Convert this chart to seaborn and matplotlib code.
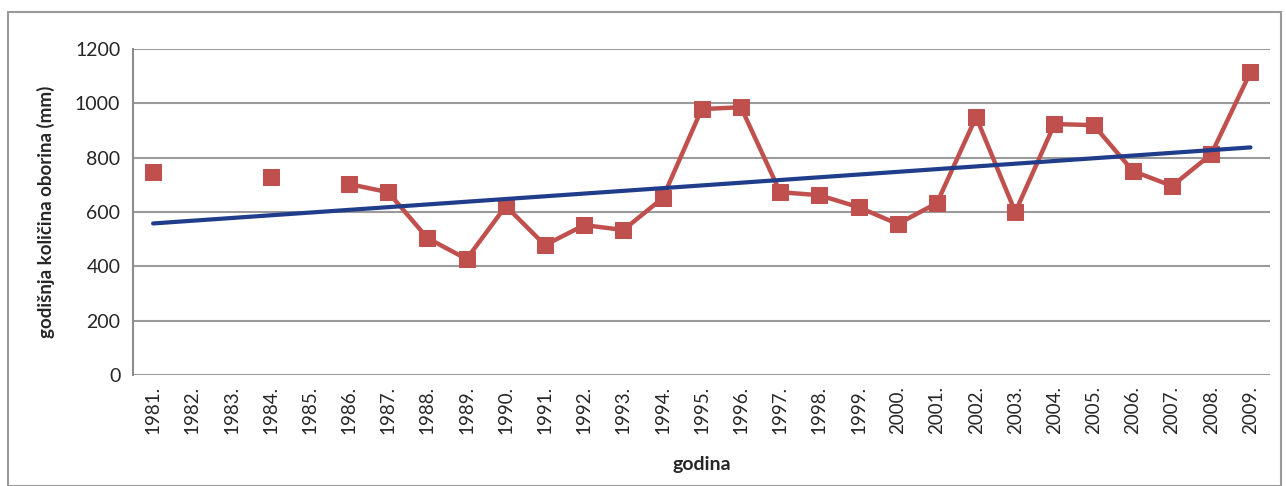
import numpy as np
import pandas as pd
import matplotlib
matplotlib.use("Agg")
import matplotlib.pyplot as plt
import seaborn as sns

# annual precipitation (mm), NaN where the year is missing
years = list(range(1981, 2010))
precip = [747, np.nan, np.nan, 729, np.nan, 703, 673, 504, 427, 622,
          478, 552, 534, 651, 979, 986, 673, 662, 618, 556,
          633, 950, 600, 924, 920, 751, 696, 813, 1115]
year_labels = [f"{y}." for y in years]

# linear trend end points as drawn
trend_years = [1981, 2009]
trend_vals = [558, 838]

sns.set_theme(style="white")
plt.rcParams['font.family'] = ['Lato', 'DejaVu Sans']

df = pd.DataFrame({'year': years, 'precip': precip})
# split the series where values are missing so the line breaks there
df['segment'] = df['precip'].isna().cumsum()
df = df.dropna()
trend = pd.DataFrame({'year': trend_years, 'value': trend_vals})

fig = plt.figure(figsize=(12.86, 4.86), dpi=100)
ax = fig.add_axes([0.1038, 0.2284, 0.8838, 0.6706])

red = '#C0504D'
blue = '#1F3D8A'

sns.lineplot(data=df, x='year', y='precip', units='segment', estimator=None,
             color=red, linewidth=3.2, marker='s', markersize=11,
             markeredgecolor=red, ax=ax, zorder=3)
sns.lineplot(data=trend, x='year', y='value', color=blue, linewidth=3,
             ax=ax, zorder=4)

ax.set_xlim(years[0] - 0.5, years[-1] + 0.5)
ax.set_ylim(0, 1200)
ax.set_yticks(range(0, 1201, 200))
ax.set_xticks(years)
ax.set_xticklabels(year_labels, rotation=90, fontsize=13.5)
ax.tick_params(axis='y', labelsize=14, length=6, color='#8C8C8C', width=1.2)
ax.tick_params(axis='x', length=0, pad=8)

ax.grid(axis='y', color='#9A9A9A', linewidth=1.5)
ax.set_axisbelow(True)
for s in ['top', 'right', 'bottom']:
    ax.spines[s].set_visible(False)
ax.spines['left'].set_color('#8C8C8C')
ax.spines['left'].set_linewidth(1.5)

ax.set_xlabel('godina', fontsize=14, fontweight='bold', labelpad=16)
ax.set_ylabel('godišnja količina oborina (mm)', fontsize=13.5, fontweight='bold',
              labelpad=14)

# outer chart border
fig.patches.append(plt.Rectangle((0.006, 0.0), 0.99, 0.975, transform=fig.transFigure,
                                 fill=False, edgecolor='#9A9A9A', linewidth=1.5))

fig.savefig('out.png', dpi=100)
